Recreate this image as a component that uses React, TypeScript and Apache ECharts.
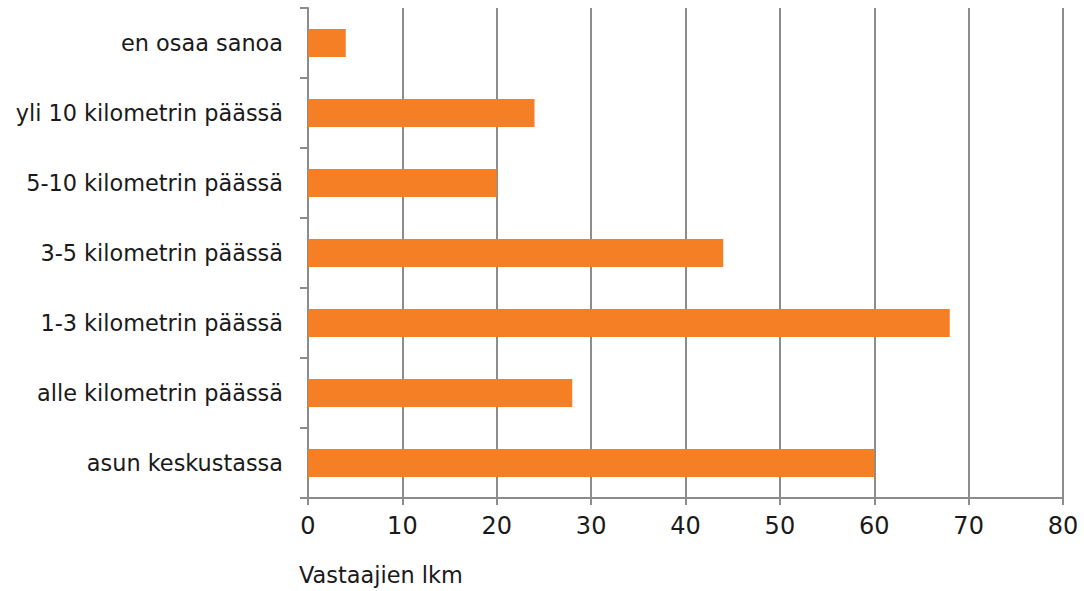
import React, { useEffect, useRef } from "react";
import * as echarts from "echarts";

const categories = [
  "asun keskustassa",
  "alle kilometrin päässä",
  "1-3 kilometrin päässä",
  "3-5 kilometrin päässä",
  "5-10 kilometrin päässä",
  "yli 10 kilometrin päässä",
  "en osaa sanoa",
];
const values = [60, 28, 68, 44, 20, 24, 4];
const axisTitle = "Vastaajien lkm";

export default function App() {
  const ref = useRef<HTMLDivElement>(null);
  useEffect(() => {
    const chart = echarts.init(ref.current!, null, { renderer: "svg" });
    const font = "DejaVu Sans";
    chart.setOption({
      animation: false,
      grid: { left: 308, right: 21, top: 8, bottom: 93, containLabel: false },
      xAxis: {
        type: "value",
        min: 0,
        max: 80,
        interval: 10,
        axisLine: { show: true, lineStyle: { color: "#8c8c8c", width: 2 } },
        axisTick: { show: true, length: 7, lineStyle: { color: "#8c8c8c", width: 2 } },
        axisLabel: { color: "#1a1a1a", fontSize: 24, fontFamily: font, margin: 16 },
        splitLine: { show: true, lineStyle: { color: "#8c8c8c", width: 2 } },
      },
      yAxis: {
        type: "category",
        data: categories,
        axisLine: { show: true, lineStyle: { color: "#8c8c8c", width: 2 } },
        axisTick: { show: true, length: 8, lineStyle: { color: "#8c8c8c", width: 2 } },
        axisLabel: { color: "#1a1a1a", fontSize: 22.4, fontFamily: font, margin: 25 },
        splitLine: { show: false },
      },
      series: [
        {
          type: "bar",
          data: values,
          barCategoryGap: "60%",
          itemStyle: { color: "#F47F24" },
        },
      ],
      graphic: [
        {
          type: "text",
          left: 299,
          top: 564,
          style: { text: axisTitle, fill: "#1a1a1a", fontSize: 22.4, fontFamily: font },
        },
      ],
    });
    return () => chart.dispose();
  }, []);
  return (
    <div
      ref={ref}
      style={{ position: "fixed", left: 0, top: 0, width: 1084, height: 591, background: "#fff" }}
    />
  );
}
